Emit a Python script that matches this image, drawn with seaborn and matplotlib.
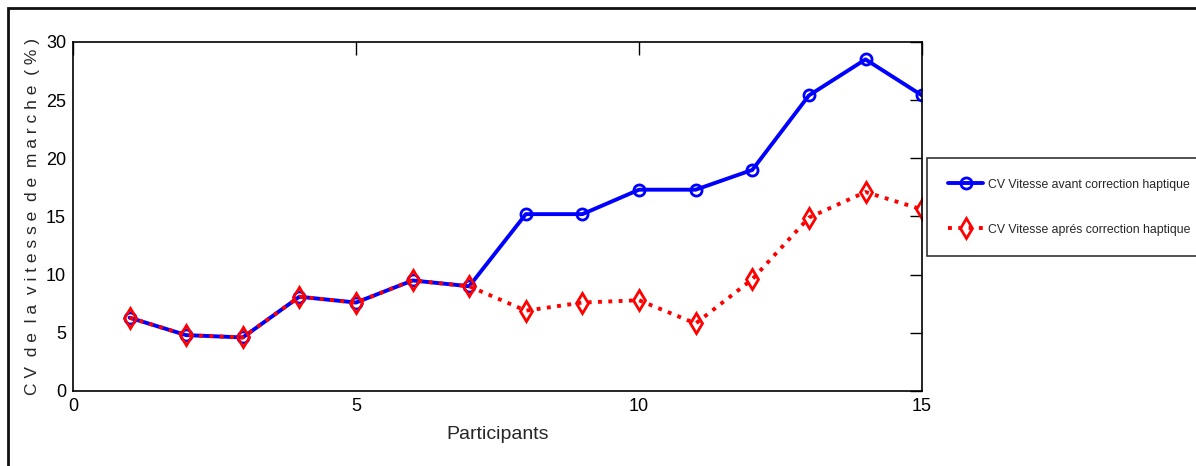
import numpy as np
import pandas as pd
import matplotlib
matplotlib.use('Agg')
import matplotlib.pyplot as plt
import seaborn as sns
from matplotlib.patches import Rectangle

# Data
participants = list(range(1, 16))
cv_avant = [6.3, 4.8, 4.6, 8.1, 7.6, 9.5, 9.0, 15.2, 15.2, 17.3, 17.3, 19.0, 25.4, 28.5, 25.4]
cv_apres = [6.3, 4.8, 4.6, 8.1, 7.6, 9.5, 9.0, 6.9, 7.6, 7.8, 5.8, 9.6, 14.9, 17.1, 15.6]
label_avant = 'CV Vitesse avant correction haptique'
label_apres = 'CV Vitesse aprés correction haptique'

sns.set_style('white')
plt.rcParams['font.family'] = ['Liberation Sans', 'DejaVu Sans']

fig = plt.figure(figsize=(11.96, 4.66), dpi=100)
ax = fig.add_axes([0.061, 0.161, 0.710, 0.749])

# outer frame (only top and left edges are visible in the reference)
fig.patches.append(Rectangle((0.0065, -0.2), 1.2, 1.183, transform=fig.transFigure,
                             fill=False, edgecolor='#111111', linewidth=2))

sns.lineplot(x=participants, y=cv_avant, ax=ax, color='blue', linewidth=2.8,
             marker='o', markersize=8, markerfacecolor='none', markeredgecolor='blue',
             markeredgewidth=2, label=label_avant)
sns.lineplot(x=participants, y=cv_apres, ax=ax, color='red', linewidth=2.8,
             linestyle=':', marker='d', markersize=10, markerfacecolor='none',
             markeredgecolor='red', markeredgewidth=2, label=label_apres)

ax.set_xlim(0, 15)
ax.set_ylim(0, 30)
ax.set_xticks([0, 5, 10, 15])
ax.set_yticks([0, 5, 10, 15, 20, 25, 30])
ax.tick_params(direction='in', length=9, width=1, top=True, right=True,
               labelsize=13, colors='black', pad=5)
for s in ax.spines.values():
    s.set_visible(True)
    s.set_color('black')
    s.set_linewidth(1.2)

ax.set_xlabel('Participants', fontsize=14, labelpad=8)
ax.set_ylabel('C V  d e  l a  v i t e s s e  d e  m a r c h e  ( % )', fontsize=12.5, labelpad=4)

leg = ax.legend(loc='center left', bbox_to_anchor=(1.006, 0.527), fontsize=8.8,
                frameon=True, fancybox=False, edgecolor='black', handlelength=2.9,
                handletextpad=0.4, borderpad=1.7, labelspacing=2.7, borderaxespad=0)
leg.get_frame().set_linewidth(1.2)

fig.savefig('out.png', dpi=100, facecolor='white')
